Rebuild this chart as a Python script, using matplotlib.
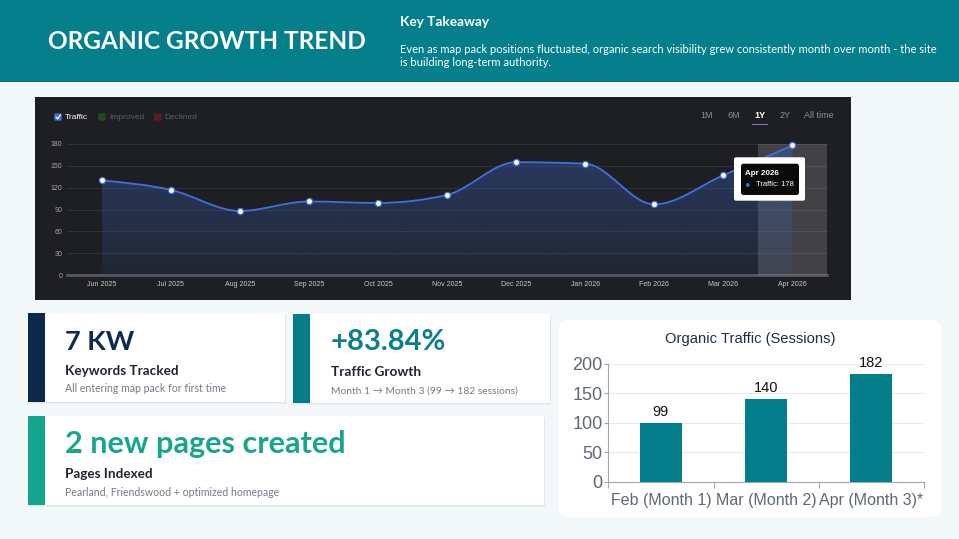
import numpy as np
import matplotlib
matplotlib.use("Agg")
import matplotlib.pyplot as plt
from matplotlib.patches import Rectangle, FancyBboxPatch, PathPatch, Circle
from matplotlib.path import Path
from matplotlib.colors import to_rgb

# ---------------- data ----------------
months = ["Jun 2025", "Jul 2025", "Aug 2025", "Sep 2025", "Oct 2025", "Nov 2025",
          "Dec 2025", "Jan 2026", "Feb 2026", "Mar 2026", "Apr 2026"]
traffic = [130, 117, 88, 101, 99, 110, 155, 153, 97, 137, 178]
line_yticks = [0, 30, 60, 90, 120, 150, 180]
legend_items = ["Traffic", "Improved", "Declined"]
range_buttons = ["1M", "6M", "1Y", "2Y", "All time"]
active_range = "1Y"

bar_labels = ["Feb (Month 1)", "Mar (Month 2)", "Apr (Month 3)*"]
bar_values = [99, 140, 182]
bar_yticks = [0, 50, 100, 150, 200]

title = "ORGANIC GROWTH TREND"
takeaway_head = "Key Takeaway"
takeaway_lines = ["Even as map pack positions fluctuated, organic search visibility grew consistently month over month - the site",
                  "is building long-term authority."]
kpi_values = ["7 KW", "+83.84%", "2 new pages created"]
kpi_titles = ["Keywords Tracked", "Traffic Growth", "Pages Indexed"]
kpi_subs = ["All entering map pack for first time",
            "Month 1 \u2192 Month 3 (99 \u2192 182 sessions)",
            "Pearland, Friendswood + optimized homepage"]
bar_title = "Organic Traffic (Sessions)"

# ---------------- style ----------------
plt.rcParams["font.family"] = ["Liberation Sans", "DejaVu Sans"]
W, H = 959, 539
TEAL = "#047f8b"
fig = plt.figure(figsize=(W / 100, H / 100), dpi=100)
fig.patch.set_facecolor("#f3f8fb")
renderer = fig.canvas.get_renderer()


def px_axes(x0, y0, x1, y1, z):
    return fig.add_axes([x0 / W, 1 - y1 / H, (x1 - x0) / W, (y1 - y0) / H], zorder=z)


def overlay(z):
    a = px_axes(0, 0, W, H, z)
    a.set_xlim(0, W)
    a.set_ylim(H, 0)
    a.axis("off")
    a.patch.set_alpha(0)
    return a


def fit_text(ax, x, y, s, width, **kw):
    t = ax.text(x, y, s, fontsize=10, **kw)
    w = t.get_window_extent(renderer).width
    t.set_fontsize(10 * width / w)
    return t


bg = overlay(0)

# header
bg.add_patch(Rectangle((0, 0), W, 82, color=TEAL, lw=0))
bg.add_patch(Rectangle((0, 80.8), W, 1.4, color="#0a6f79", lw=0))
hf = ["Lato", "DejaVu Sans"]
fit_text(bg, 48.3, 49.3, title, 318.4, color="white", fontweight="bold", family=hf, va="baseline")
fit_text(bg, 400, 26, takeaway_head, 89, color="white", fontweight="bold", family=hf, va="baseline")
t1 = fit_text(bg, 400, 52.7, takeaway_lines[0], 534, color="white", family=hf, va="baseline")
bg.text(400, 66.3, takeaway_lines[1], fontsize=t1.get_fontsize(), color="white", family=hf, va="baseline")

# dark panel
bg.add_patch(Rectangle((35, 97), 816, 203, color="#1e1f23", lw=0))


# KPI cards
def card(x0, y0, x1, y1, bar_color):
    bg.add_patch(Rectangle((x0 + 1, y0 + 2), x1 - x0, y1 - y0, color="black", alpha=0.035, lw=0))
    bg.add_patch(Rectangle((x0 + 0.5, y0 + 1), x1 - x0, y1 - y0, color="black", alpha=0.04, lw=0))
    bg.add_patch(Rectangle((x0, y0), x1 - x0, y1 - y0, color="white", lw=0))
    bg.add_patch(Rectangle((x0, y0), 16.7, y1 - y0, color=bar_color, lw=0))


card(28.3, 313.3, 285, 402, "#0d2848")
card(293.3, 314, 550, 403.3, "#047d88")
card(28.3, 416, 544.3, 504.5, "#13a68c")

vcol = ["#0f2a4a", "#0b7f8a", "#17a68c"]
vpos = [(65, 350, 69.3), (330.7, 350, 115), (65, 453.3, 282)]
tpos = [(65, 375, 113.3), (330.7, 375.7, 90), (65, 477.7, 87.3)]
spos = [(65, 392.3, 160.7), (330.7, 393.3, 187.3), (65, 495.7, 214.3)]
for i in range(3):
    x, y, w = vpos[i]
    fit_text(bg, x, y, kpi_values[i], w, color=vcol[i], fontweight="bold", family=hf, va="baseline")
    x, y, w = tpos[i]
    fit_text(bg, x, y, kpi_titles[i], w, color="#1f2530", fontweight="bold", family=hf, va="baseline")
    x, y, w = spos[i]
    fit_text(bg, x, y, kpi_subs[i], w, color="#737b86", family=hf, va="baseline")

# bar card
bg.add_patch(FancyBboxPatch((558.3, 320), 383.4, 196.7,
                            boxstyle="round,pad=0,rounding_size=10", color="white", lw=0))
fit_text(bg, 750, 343.3, bar_title, 170, color="#1f2d4a", ha="center", va="baseline")

# ---------------- line chart ----------------
lax = px_axes(67, 144, 827, 275, 2)
lax.patch.set_alpha(0)
n = len(traffic)
xs = np.arange(n, dtype=float)
ys = np.array(traffic, dtype=float)
lax.set_xlim(-0.5, n - 0.5)
lax.set_ylim(0, 180)
for s in lax.spines.values():
    s.set_visible(False)
for v in line_yticks[1:]:
    lax.axhline(v, color="#333539", lw=0.6, zorder=0)
lax.axhline(0, color="#56585e", lw=2, zorder=1, clip_on=False)
lax.axvspan(n - 1.5, n - 0.5, color="white", alpha=0.16, lw=0, zorder=1)

# monotone cubic (monotoneX) path through the points
sec = np.diff(ys)
tan = np.zeros(n)
for i in range(1, n - 1):
    s0, s1 = sec[i - 1], sec[i]
    p = (s0 + s1) / 2
    tan[i] = ((1 if s0 >= 0 else -1) + (1 if s1 >= 0 else -1)) * min(abs(s0), abs(s1), 0.5 * abs(p))
tan[0] = (3 * sec[0] - tan[1]) / 2
tan[-1] = (3 * sec[-1] - tan[-2]) / 2
verts = [(xs[0], ys[0])]
codes = [Path.MOVETO]
for i in range(n - 1):
    verts += [(xs[i] + 1 / 3, ys[i] + tan[i] / 3),
              (xs[i + 1] - 1 / 3, ys[i + 1] - tan[i + 1] / 3),
              (xs[i + 1], ys[i + 1])]
    codes += [Path.CURVE4] * 3
line_path = Path(verts, codes)
fill_path = Path(verts + [(xs[-1], 0), (xs[0], 0), (xs[0], ys[0])],
                 codes + [Path.LINETO, Path.LINETO, Path.CLOSEPOLY])
fill_patch = PathPatch(fill_path, facecolor="none", edgecolor="none")
lax.add_patch(fill_patch)
rgb = to_rgb("#3a66c8")
grad = np.zeros((256, 1, 4))
grad[:, 0, :3] = rgb
grad[:, 0, 3] = np.linspace(0.1, 0.4, 256)
im = lax.imshow(grad, extent=(xs[0], xs[-1], 0, ys.max()), origin="lower",
                aspect="auto", zorder=2, interpolation="bilinear")
im.set_clip_path(fill_patch)
lax.add_patch(PathPatch(line_path, facecolor="none", edgecolor="#4170d8", lw=1.3, zorder=3))
lax.scatter(xs, ys, s=20, facecolor="white", edgecolor="#4170d8", lw=0.9, zorder=5, clip_on=False)

lax.set_yticks(line_yticks)
lax.set_xticks(xs)
lax.set_xticklabels(months)
lax.tick_params(axis="y", length=0, pad=3.5, labelsize=5, labelcolor="#a8a8a8")
lax.tick_params(axis="x", length=0, pad=4.5, labelsize=5, labelcolor="#c8c8c8")

# ---------------- bar chart ----------------
bax = px_axes(608.3, 363.7, 924, 482, 3)
bax.patch.set_alpha(0)
bx = np.arange(len(bar_values))
bars = bax.bar(bx, bar_values, width=0.4, color="#047d8a", zorder=3)
bax.set_xlim(-0.5, len(bar_values) - 0.5)
bax.set_ylim(0, 200)
bax.set_yticks(bar_yticks)
bax.yaxis.grid(True, color="#e6e9ee", lw=0.8)
bax.set_axisbelow(True)
for side in ["top", "right"]:
    bax.spines[side].set_visible(False)
for side in ["left", "bottom"]:
    bax.spines[side].set_color("#a3a8ae")
    bax.spines[side].set_linewidth(0.8)
bax.set_xticks(bx)
bax.set_xticklabels(bar_labels)
bax.set_xticks(np.arange(len(bar_values) + 1) - 0.5, minor=True)
bax.tick_params(axis="x", which="major", length=0, pad=8, labelsize=11.5, labelcolor="#5f6875")
bax.tick_params(axis="x", which="minor", length=4, color="#a3a8ae", width=0.8)
bax.tick_params(axis="y", length=3, pad=1, labelsize=13, labelcolor="#5f6875", color="#a3a8ae", width=0.8)
for b, v in zip(bars, bar_values):
    bax.annotate(str(v), (b.get_x() + b.get_width() / 2, v), xytext=(0, 5),
                 textcoords="offset points", ha="center", va="baseline",
                 fontsize=10.5, color="#111111")

# ---------------- overlay: legend, range buttons, tooltip ----------------
fg = overlay(10)
leg_x = [54.3, 98.3, 154]
leg_c = ["#3b6fd6", "#1f4a2a", "#5a1e22"]
leg_t = ["white", "#5c5f65", "#5c5f65"]
for i, name in enumerate(legend_items):
    fg.add_patch(FancyBboxPatch((leg_x[i], 113.3), 7.4, 7.4, boxstyle="round,pad=0,rounding_size=1.3",
                                color=leg_c[i], lw=0))
    fg.text(leg_x[i] + 10.5, 117.2, name, fontsize=6, color=leg_t[i], va="center", ha="left")
fg.plot([55.9, 57.6, 60.4], [117.0, 118.9, 115.0], color="white", lw=0.9, solid_capstyle="round")

btn_x = [706.7, 734, 760, 785, 819.3]
for xb, name in zip(btn_x, range_buttons):
    act = name == active_range
    fg.text(xb, 115.7, name, fontsize=6.5, ha="center", va="center",
            color="white" if act else "#8e9096", fontweight="bold" if act else "normal")
    if act:
        fg.add_patch(Rectangle((xb - 8.3, 123.5), 16.6, 1.9, color="#8f6bd1", lw=0))

fg.add_patch(FancyBboxPatch((734, 157.3), 71, 43.4, boxstyle="round,pad=0,rounding_size=2",
                            color="white", lw=0))
fg.add_patch(FancyBboxPatch((741, 163.7), 58, 31.3, boxstyle="round,pad=0,rounding_size=2.5",
                            color="#0a0a0b", lw=0))
fg.text(745, 173.5, months[-1], fontsize=5.8, fontweight="bold", color="white", va="center")
fg.add_patch(Circle((747.8, 185), 1.9, color="#3b6fd6", lw=0))
fg.text(755.5, 185, f"{legend_items[0]}: {traffic[-1]}", fontsize=5.5, color="white", va="center")

fig.savefig("out.png", dpi=100, facecolor=fig.get_facecolor())
